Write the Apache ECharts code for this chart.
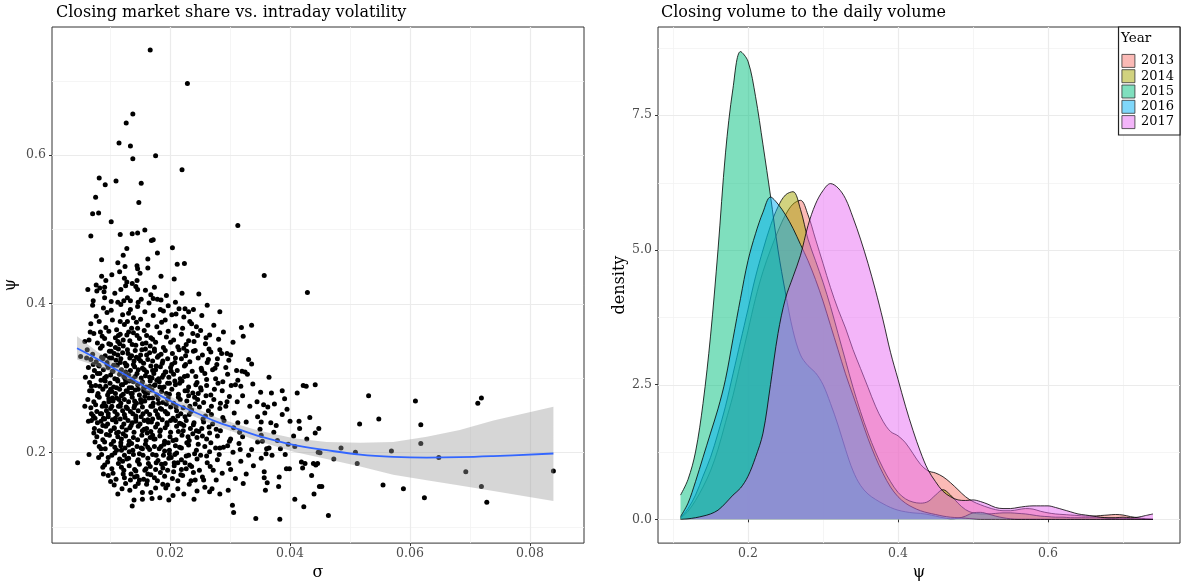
<!DOCTYPE html>
<html>
<head>
<meta charset="utf-8">
<script src="https://cdn.jsdelivr.net/npm/echarts@6/dist/echarts.min.js"></script>
<style>
  html, body { margin: 0; padding: 0; background: #fff; }
  #chart { width: 1186px; height: 586px; }
</style>
</head>
<body>
<div id="chart"></div>
<script>
// ---- left panel: closing share (psi) vs intraday volatility (sigma)
const volPoints = [
  [0.0167,0.741],[0.0229,0.696],[0.0138,0.655],[0.0127,0.643],[0.0115,0.616],[0.0134,0.612],[0.0176,0.599],[0.0138,0.595],
  [0.022,0.58],[0.0082,0.569],[0.0092,0.56],[0.011,0.565],[0.0152,0.562],[0.0076,0.543],[0.0148,0.536],[0.0071,0.521],
  [0.0081,0.522],[0.0102,0.51],[0.0313,0.505],[0.0068,0.491],[0.0117,0.493],[0.0137,0.494],[0.0146,0.495],[0.0158,0.499],
  [0.0169,0.485],[0.0172,0.486],[0.0128,0.474],[0.0122,0.465],[0.0179,0.468],[0.0204,0.475],[0.0086,0.459],[0.0113,0.455],
  [0.0125,0.45],[0.0145,0.451],[0.0146,0.447],[0.0163,0.46],[0.0163,0.448],[0.0212,0.453],[0.0224,0.454],[0.0116,0.443],
  [0.0103,0.439],[0.015,0.441],[0.0086,0.437],[0.0185,0.437],[0.0207,0.433],[0.0093,0.431],[0.0124,0.434],[0.0128,0.429],
  [0.0137,0.427],[0.0145,0.431],[0.0077,0.425],[0.0063,0.419],[0.0083,0.421],[0.0091,0.422],[0.0078,0.417],[0.009,0.416],
  [0.0118,0.419],[0.0143,0.423],[0.0146,0.419],[0.0159,0.418],[0.0248,0.413],[0.022,0.414],[0.0168,0.412],[0.0072,0.404],
  [0.0091,0.408],[0.0102,0.403],[0.0113,0.402],[0.0123,0.404],[0.0129,0.408],[0.0134,0.404],[0.0147,0.402],[0.0172,0.407],
  [0.0179,0.406],[0.0185,0.405],[0.0197,0.397],[0.0225,0.393],[0.0239,0.392],[0.0283,0.389],[0.0253,0.384],[0.021,0.386],
  [0.0223,0.382],[0.0233,0.376],
  [0.0357,0.438],[0.0429,0.415],[0.0319,0.368],[0.0336,0.371],[0.0295,0.333],[0.0301,0.331],[0.0336,0.319],[0.032,0.309],
  [0.0325,0.308],[0.0311,0.31],[0.0281,0.352],[0.0265,0.339],[0.026,0.354],[0.0238,0.36],[0.024,0.349],[0.0223,0.34],
  [0.0242,0.337],[0.0228,0.336],[0.0264,0.325],[0.0253,0.31],[0.0298,0.324],[0.0278,0.318],
  [0.0365,0.301],[0.0369,0.28],[0.0387,0.283],[0.0391,0.272],[0.0356,0.264],[0.0363,0.261],[0.0412,0.28],[0.0422,0.29],
  [0.0427,0.289],[0.0442,0.291],[0.0387,0.251],[0.0368,0.24],[0.0352,0.241],[0.04,0.242],[0.0415,0.242],[0.0416,0.232],
  [0.0433,0.247],[0.0448,0.232],[0.0442,0.226],[0.0428,0.218],[0.0352,0.223],[0.0354,0.215],[0.0379,0.216],[0.0397,0.211],
  [0.0408,0.208],[0.0447,0.2],[0.045,0.1996],[0.0485,0.206],[0.0509,0.2],[0.0473,0.191],[0.0512,0.185],[0.0531,0.276],
  [0.0516,0.238],[0.0548,0.245],[0.0569,0.202],[0.0609,0.269],[0.0618,0.237],[0.0618,0.212],[0.0648,0.193],[0.0693,0.174],
  [0.0713,0.266],[0.0719,0.273],[0.0719,0.154],[0.0728,0.133],[0.0839,0.175],[0.0555,0.156],[0.0589,0.151],[0.0624,0.139],
  [0.0464,0.115],[0.0383,0.11],[0.0423,0.127],[0.0408,0.137],[0.044,0.144],[0.0449,0.154],[0.0453,0.154],[0.0436,0.169],
  [0.0419,0.187],[0.0421,0.179],[0.0425,0.185],[0.0439,0.185],[0.0443,0.183],[0.0446,0.185],[0.0394,0.178],[0.0399,0.178],
  [0.0392,0.197],[0.0382,0.167],[0.0381,0.154],[0.0357,0.166],[0.0359,0.149],[0.0362,0.159],[0.0357,0.174],[0.037,0.196],
  [0.036,0.198],[0.0352,0.192],[0.0361,0.205],[0.0365,0.206],[0.035,0.231],
  [0.0137,0.128],[0.014,0.136],[0.0154,0.137],[0.017,0.138],[0.0183,0.139],[0.0198,0.136],[0.012,0.151],[0.024,0.137],
  [0.0304,0.129],[0.0306,0.119],[0.0343,0.111],[0.0046,0.186],[0.0065,0.197],[0.0088,0.18],[0.0051,0.329],[0.027,0.151],
  [0.0283,0.144],[0.0141,0.167],[0.0162,0.162],[0.0193,0.152],
  [0.0305,0.2],[0.0318,0.188],[0.0331,0.196],[0.0327,0.171],[0.0339,0.182],[0.0346,0.214],[0.0309,0.165],[0.0322,0.158],
  [0.0297,0.149],[0.0287,0.172],[0.0336,0.204],[0.0315,0.212],[0.0289,0.207],[0.0298,0.185],[0.0373,0.227],[0.0384,0.205],
  [0.0406,0.222],[0.0377,0.236],[0.0395,0.258],[0.0345,0.268],[0.0351,0.281],[0.0338,0.292],[0.0329,0.305],[0.0318,0.289],
  [0.0346,0.248],[0.0333,0.262],[0.0312,0.268],[0.0327,0.241],[0.0358,0.253],[0.0374,0.265],
  // dense cloud
  [0.0071,0.398],[0.0089,0.394],[0.0102,0.391],[0.0118,0.399],[0.0131,0.387],[0.0146,0.396],[0.0158,0.389],[0.0165,0.401],
  [0.0184,0.392],[0.0203,0.385],[0.0121,0.385],[0.0095,0.388],[0.0077,0.383],[0.0139,0.381],[0.0172,0.384],[0.0192,0.378],
  [0.0215,0.393],[0.0262,0.398],[0.0129,0.376],[0.0151,0.379],
  [0.0068,0.373],[0.0082,0.376],[0.0093,0.368],[0.0104,0.378],[0.0111,0.365],[0.0124,0.372],[0.0136,0.367],[0.0144,0.375],
  [0.0157,0.364],[0.0163,0.371],[0.0178,0.369],[0.0186,0.375],[0.0197,0.363],[0.0209,0.37],[0.0221,0.367],[0.0236,0.373],
  [0.0251,0.364],[0.0273,0.371],[0.0073,0.36],[0.0087,0.356],[0.0098,0.363],[0.0109,0.354],[0.0117,0.359],[0.0128,0.358],
  [0.0139,0.361],[0.0149,0.353],[0.0161,0.357],[0.0171,0.352],[0.0183,0.361],[0.0194,0.355],[0.0206,0.351],[0.0219,0.359],
  [0.0231,0.35],[0.0246,0.357],[0.0289,0.362],[0.0065,0.351],[0.0079,0.347],[0.0091,0.353],[0.0101,0.345],[0.0113,0.349],
  [0.0122,0.343],[0.0133,0.35],[0.0143,0.344],[0.0154,0.346],[0.0167,0.343],[0.0176,0.348],[0.0189,0.341],[0.0201,0.348],
  [0.0213,0.342],[0.0227,0.345],[0.0259,0.346],[0.0305,0.348],[0.0322,0.356],
  [0.0062,0.338],[0.0071,0.332],[0.0084,0.34],[0.0092,0.33],[0.0099,0.336],[0.0107,0.333],[0.0114,0.339],[0.0121,0.334],
  [0.0129,0.338],[0.0136,0.33],[0.0142,0.337],[0.0151,0.331],[0.0159,0.339],[0.0166,0.334],[0.0174,0.336],[0.0181,0.33],
  [0.0192,0.337],[0.0204,0.333],[0.0215,0.338],[0.0226,0.33],[0.0239,0.336],[0.0254,0.331],[0.0268,0.335],[0.0286,0.333],
  [0.0068,0.325],[0.0077,0.322],[0.0086,0.328],[0.0095,0.321],[0.0103,0.327],[0.011,0.324],[0.0118,0.326],[0.0125,0.32],
  [0.0133,0.327],[0.014,0.323],[0.0148,0.326],[0.0156,0.32],[0.0163,0.325],[0.0171,0.323],[0.0179,0.328],[0.0187,0.32],
  [0.0196,0.326],[0.0208,0.321],[0.0219,0.326],[0.0233,0.322],[0.0247,0.327],[0.0262,0.321],[0.0279,0.326],[0.0331,0.325],
  [0.0064,0.314],[0.0074,0.31],[0.0081,0.317],[0.0089,0.311],[0.0097,0.314],[0.0105,0.309],[0.0112,0.317],[0.0119,0.311],
  [0.0127,0.316],[0.0134,0.31],[0.0141,0.315],[0.0147,0.311],[0.0154,0.313],[0.0161,0.308],[0.0168,0.316],[0.0176,0.311],
  [0.0184,0.315],[0.0193,0.308],[0.0201,0.314],[0.0212,0.31],[0.0224,0.316],[0.0237,0.309],[0.0252,0.313],[0.0271,0.311],
  [0.0293,0.314],[0.0071,0.302],[0.0083,0.306],[0.0091,0.3],[0.0101,0.304],[0.0108,0.299],[0.0116,0.305],[0.0123,0.302],
  [0.0131,0.304],[0.0138,0.299],[0.0145,0.306],[0.0152,0.3],[0.0159,0.303],[0.0166,0.301],[0.0173,0.306],[0.0181,0.299],
  [0.0189,0.304],[0.0198,0.301],[0.0206,0.305],[0.0217,0.299],[0.0229,0.303],[0.0243,0.302],[0.0258,0.306],[0.0276,0.299],
  [0.0066,0.294],[0.0076,0.29],[0.0085,0.297],[0.0093,0.289],[0.01,0.293],[0.0106,0.288],[0.0113,0.296],[0.0119,0.291],
  [0.0126,0.294],[0.0132,0.287],[0.0139,0.295],[0.0146,0.291],[0.0153,0.293],[0.016,0.288],[0.0167,0.296],[0.0174,0.29],
  [0.0182,0.295],[0.019,0.288],[0.0199,0.293],[0.0209,0.291],[0.022,0.296],[0.0231,0.288],[0.0245,0.294],[0.0261,0.29],
  [0.028,0.293],[0.0302,0.29],[0.007,0.283],[0.008,0.279],[0.0088,0.285],[0.0096,0.277],[0.0103,0.282],[0.0109,0.279],
  [0.0116,0.285],[0.0122,0.278],[0.0129,0.282],[0.0135,0.279],[0.0142,0.284],[0.0149,0.277],[0.0156,0.283],[0.0163,0.28],
  [0.017,0.284],[0.0178,0.277],[0.0186,0.282],[0.0194,0.279],[0.0203,0.285],[0.0214,0.278],[0.0225,0.283],[0.0238,0.28],
  [0.0252,0.284],[0.0268,0.277],[0.0287,0.283],[0.0063,0.271],[0.0073,0.268],[0.0082,0.274],[0.009,0.266],[0.0098,0.272],
  [0.0105,0.269],[0.0111,0.273],[0.0118,0.266],[0.0124,0.271],[0.0131,0.268],[0.0137,0.274],[0.0144,0.266],[0.0151,0.271],
  [0.0158,0.269],[0.0165,0.273],[0.0172,0.266],[0.018,0.272],[0.0188,0.267],[0.0197,0.273],[0.0206,0.266],[0.0217,0.271],
  [0.0228,0.269],[0.0241,0.274],[0.0256,0.267],[0.0273,0.271],[0.0295,0.268],[0.0068,0.26],[0.0078,0.255],[0.0087,0.262],
  [0.0094,0.256],[0.0101,0.259],[0.0108,0.255],[0.0114,0.262],[0.0121,0.256],[0.0127,0.261],[0.0134,0.255],[0.014,0.26],
  [0.0147,0.256],[0.0154,0.261],[0.0161,0.255],[0.0168,0.262],[0.0176,0.256],[0.0184,0.259],[0.0192,0.255],[0.0201,0.261],
  [0.0211,0.256],[0.0222,0.26],[0.0235,0.255],[0.0249,0.261],[0.0264,0.256],[0.0283,0.259],[0.0072,0.249],[0.0084,0.252],
  [0.0097,0.248],[0.0112,0.251],[0.0125,0.247],[0.0138,0.252],[0.0152,0.248],[0.0166,0.251],[0.0181,0.247],[0.0196,0.252],
  [0.0213,0.249],[0.0232,0.251],[0.0259,0.249],
  [0.0069,0.243],[0.0079,0.24],[0.0089,0.246],[0.0096,0.238],[0.0104,0.244],[0.011,0.241],[0.0117,0.245],[0.0123,0.238],
  [0.013,0.243],[0.0137,0.24],[0.0143,0.246],[0.015,0.238],[0.0157,0.243],[0.0164,0.241],[0.0171,0.245],[0.0179,0.238],
  [0.0187,0.244],[0.0195,0.24],[0.0205,0.246],[0.0216,0.239],[0.0227,0.243],[0.024,0.24],[0.0255,0.245],[0.0271,0.238],
  [0.029,0.243],[0.0313,0.24],[0.0074,0.232],[0.0085,0.228],[0.0093,0.235],[0.0101,0.229],[0.0107,0.232],[0.0114,0.227],
  [0.012,0.234],[0.0127,0.23],[0.0133,0.233],[0.014,0.227],[0.0147,0.235],[0.0154,0.229],[0.0161,0.232],[0.0168,0.228],
  [0.0176,0.234],[0.0184,0.23],[0.0192,0.233],[0.0201,0.227],[0.0211,0.235],[0.0222,0.229],[0.0234,0.232],[0.0248,0.228],
  [0.0265,0.234],[0.0284,0.229],[0.0306,0.233],[0.0078,0.221],[0.0088,0.217],[0.0099,0.223],[0.0106,0.215],[0.0113,0.221],
  [0.0119,0.218],[0.0126,0.222],[0.0132,0.215],[0.0139,0.22],[0.0146,0.217],[0.0153,0.223],[0.016,0.216],[0.0167,0.22],
  [0.0175,0.218],[0.0183,0.222],[0.0191,0.215],[0.02,0.221],[0.021,0.217],[0.022,0.223],[0.0232,0.216],[0.0245,0.22],
  [0.0261,0.218],[0.0279,0.222],[0.0299,0.215],[0.0321,0.221],[0.0082,0.208],[0.0092,0.205],[0.0102,0.211],[0.0111,0.203],
  [0.0118,0.209],[0.0125,0.206],[0.0131,0.21],[0.0138,0.203],[0.0145,0.208],[0.0152,0.206],[0.0159,0.211],[0.0166,0.204],
  [0.0174,0.208],[0.0182,0.205],[0.019,0.211],[0.0199,0.203],[0.0209,0.209],[0.0219,0.206],[0.0231,0.21],[0.0244,0.203],
  [0.0258,0.208],[0.0276,0.206],[0.0296,0.209],[0.0317,0.204],
  [0.0086,0.197],[0.0097,0.193],[0.0108,0.199],[0.0116,0.191],[0.0124,0.196],[0.0131,0.192],[0.0139,0.197],[0.0147,0.19],
  [0.0155,0.196],[0.0163,0.192],[0.0171,0.197],[0.018,0.189],[0.0189,0.196],[0.0198,0.192],[0.0208,0.197],[0.0219,0.19],
  [0.0231,0.196],[0.0245,0.191],[0.0261,0.195],[0.0279,0.19],[0.0091,0.183],[0.0103,0.178],[0.0114,0.185],[0.0123,0.176],
  [0.0132,0.182],[0.0141,0.177],[0.0149,0.184],[0.0158,0.176],[0.0167,0.181],[0.0176,0.177],[0.0186,0.184],[0.0196,0.176],
  [0.0207,0.182],[0.0219,0.177],[0.0233,0.183],[0.0249,0.176],[0.0267,0.181],[0.0097,0.169],[0.011,0.164],[0.0122,0.171],
  [0.0134,0.163],[0.0145,0.168],[0.0156,0.164],[0.0168,0.17],[0.0179,0.162],[0.0191,0.168],[0.0204,0.165],[0.0218,0.17],
  [0.0235,0.162],[0.0254,0.167],[0.0277,0.163],[0.0107,0.156],[0.0126,0.158],[0.0142,0.154],[0.0161,0.157],[0.0176,0.152],
  [0.0196,0.156],[0.0213,0.151],[0.0232,0.157],[0.0258,0.153],
  [0.0095,0.318],[0.0132,0.296],[0.0158,0.275],[0.0117,0.262],[0.0143,0.249],[0.0187,0.287],[0.0109,0.341],[0.0126,0.308],
  [0.0151,0.323],[0.0171,0.262],[0.0199,0.278],[0.0135,0.236],[0.0162,0.226],[0.0119,0.203],[0.0093,0.262],[0.0083,0.289],
  [0.0104,0.273],[0.0147,0.285],[0.0178,0.297],[0.0208,0.296],[0.0229,0.283],[0.0242,0.265],[0.0218,0.252],[0.0195,0.237],
  [0.0173,0.218],[0.0154,0.205],[0.0128,0.191],[0.0111,0.226],[0.0088,0.236],[0.0076,0.264],[0.0079,0.306],[0.0099,0.327],
  [0.0122,0.351],[0.0146,0.367],[0.0168,0.354],[0.0185,0.332],[0.0203,0.318],[0.0224,0.302],[0.0251,0.287],[0.0269,0.262],
  [0.0288,0.247],[0.0266,0.226],[0.0247,0.211],[0.0227,0.195],[0.0207,0.186],[0.0184,0.173],[0.0164,0.185],[0.0143,0.175],
  [0.0119,0.18],[0.0103,0.196],[0.0091,0.214],[0.0082,0.229],[0.0069,0.252],[0.0066,0.283],[0.0072,0.318],[0.0087,0.343],
  [0.0114,0.357],[0.0137,0.345],[0.0161,0.331],[0.0177,0.316],[0.0196,0.293],[0.0214,0.274],[0.0236,0.257],[0.0256,0.241],
  [0.0277,0.231],[0.0301,0.218],[0.0282,0.197],[0.0262,0.186],[0.0239,0.173],[0.0213,0.162],[0.0188,0.157],[0.0168,0.146],
  [0.0147,0.158],[0.0124,0.166],[0.0105,0.172],[0.0096,0.187],[0.0085,0.205],[0.0075,0.214],[0.0098,0.281],[0.0112,0.298],
  [0.0127,0.283],[0.0141,0.269],[0.0155,0.252],[0.0169,0.241],[0.0183,0.228],[0.0197,0.213],[0.0211,0.199],[0.0225,0.186],
  [0.0241,0.198],[0.0228,0.213],[0.0214,0.228],[0.0201,0.243],[0.0186,0.258],[0.0171,0.273],[0.0156,0.287],[0.0142,0.302],
  [0.0128,0.317],[0.0113,0.331],[0.0098,0.346],[0.0084,0.362],[0.0117,0.376],[0.0134,0.392],[0.0152,0.406],[0.0108,0.414],
  [0.0126,0.424],[0.0174,0.422],[0.0194,0.411],[0.0209,0.402],[0.0189,0.39],[0.0231,0.389],[0.0244,0.369],[0.0266,0.358],
  [0.0283,0.338],[0.0296,0.305],[0.0309,0.291],[0.0321,0.276],[0.0293,0.262],[0.0307,0.253],[0.0316,0.227],[0.0301,0.177],
  [0.0272,0.176],[0.0256,0.163],[0.0266,0.147],[0.0245,0.148],[0.0223,0.144],[0.0205,0.142],[0.0154,0.146],[0.0133,0.149],
  [0.0113,0.144],[0.0101,0.161],[0.0089,0.171],[0.0081,0.193],[0.0073,0.226],[0.0064,0.242],[0.0058,0.262],[0.0059,0.301],
  [0.0061,0.327],[0.0067,0.362],[0.0058,0.349],
  [0.0094,0.302],[0.0106,0.317],[0.0121,0.291],[0.0137,0.279],[0.0152,0.267],[0.0166,0.289],[0.0181,0.266],[0.0195,0.252],
  [0.0209,0.243],[0.0223,0.236],[0.0238,0.225],[0.0253,0.232],[0.0268,0.213],[0.0283,0.206],[0.0097,0.252],[0.0109,0.246],
  [0.0122,0.225],[0.0136,0.212],[0.0149,0.198],[0.0163,0.207],[0.0177,0.196],[0.0192,0.185],[0.0206,0.174],[0.0221,0.169],
  [0.0236,0.181],[0.0251,0.196],[0.0266,0.201],[0.0086,0.252],[0.0079,0.276],[0.0092,0.296],[0.0104,0.309],[0.0117,0.321],
  [0.013,0.333],[0.0144,0.328],[0.0157,0.311],[0.017,0.3],[0.0183,0.288],[0.0196,0.271],[0.021,0.261],[0.0225,0.248],
  [0.0239,0.237],[0.0254,0.222],[0.0269,0.251],[0.0284,0.266],[0.0299,0.275],[0.0313,0.297],[0.0101,0.285],[0.0115,0.271],
  [0.0129,0.259],[0.0143,0.242],[0.0157,0.231],[0.0171,0.223],[0.0185,0.208],[0.0199,0.198],[0.0213,0.186],[0.0227,0.178],
  [0.0242,0.163],[0.0088,0.326],[0.0102,0.336],[0.0116,0.346],[0.0131,0.362],[0.0145,0.357],[0.016,0.347],[0.0174,0.339],
  [0.0188,0.323],[0.0202,0.309],[0.0216,0.293],[0.0231,0.276],[0.0246,0.271],[0.026,0.276],[0.0274,0.285],[0.0288,0.295],
  [0.0082,0.316],[0.0069,0.289],[0.0075,0.246],[0.0094,0.224],[0.0108,0.207],[0.0121,0.188],[0.0135,0.171],[0.0149,0.163],
  [0.0163,0.171],[0.0177,0.186],[0.0191,0.202],[0.0205,0.216],[0.0219,0.238],[0.0233,0.262],[0.0247,0.279],[0.0261,0.298],
  [0.0275,0.313],[0.0153,0.338],[0.0139,0.318],[0.0125,0.299],[0.0111,0.287],[0.0098,0.268],[0.0085,0.242],[0.0107,0.233],
  [0.0124,0.251],[0.0141,0.263],[0.0158,0.281],[0.0175,0.291],[0.0192,0.308],[0.0209,0.327],[0.0226,0.318],[0.0243,0.291],
  [0.0118,0.213],[0.0132,0.201],[0.0146,0.188],[0.016,0.178],[0.0174,0.166],[0.0188,0.179],[0.0202,0.193],[0.0216,0.207],
  [0.023,0.221],[0.0244,0.229],[0.0163,0.244],[0.0179,0.251],[0.0194,0.265],[0.0187,0.301],[0.0171,0.31],[0.0154,0.295],
  [0.0136,0.287],[0.0119,0.276],[0.0103,0.262],[0.0091,0.245]
];

// loess fit with its confidence band
const fitSigma = [0.0045,0.0078,0.0111,0.0145,0.0178,0.0211,0.0244,0.0278,0.0311,0.0344,0.0406,0.0461,0.0517,0.0572,0.0628,0.0683,0.0739,0.0839];
const fitPsi   = [0.340,0.326,0.311,0.295,0.279,0.265,0.253,0.241,0.232,0.223,0.210,0.203,0.197,0.194,0.193,0.1935,0.195,0.1985];
const fitUpper = [0.356,0.336,0.318,0.301,0.285,0.271,0.259,0.247,0.238,0.230,0.219,0.214,0.213,0.214,0.221,0.230,0.243,0.2615];
const fitLower = [0.325,0.316,0.304,0.289,0.273,0.259,0.247,0.235,0.226,0.216,0.201,0.191,0.181,0.170,0.1625,0.1555,0.148,0.1347];

// ---- right panel: densities of psi by year
const years = ['2013', '2014', '2015', '2016', '2017'];
const psiGrid = [0.11,0.12,0.13,0.14,0.15,0.16,0.17,0.18,0.19,0.20,0.21,0.22,0.23,0.24,0.25,0.26,0.27,0.28,0.29,0.30,
  0.31,0.32,0.33,0.34,0.35,0.36,0.37,0.38,0.39,0.40,0.41,0.42,0.43,0.44,0.45,0.46,0.47,0.48,0.49,0.50,
  0.51,0.52,0.53,0.54,0.55,0.56,0.57,0.58,0.59,0.60,0.61,0.62,0.63,0.64,0.65,0.66,0.67,0.68,0.69,0.70,0.71,0.72,0.73,0.74];
const dens2013 = [0.02,0.15,0.35,0.6,0.9,1.3,1.8,2.3,2.9,3.5, 4.1,4.6,5.0,5.35,5.65,5.85,5.92,5.65,5.2,4.75,
  4.3,3.9,3.55,3.15,2.8,2.45,2.1,1.82,1.63,1.55, 1.42,1.22,1.02,0.9,0.86,0.79,0.68,0.55,0.42,0.33,
  0.27,0.22,0.18,0.16,0.16,0.18,0.2,0.19,0.15,0.12, 0.1,0.09,0.08,0.07,0.06,0.06,0.07,0.08,0.09,0.08, 0.05,0.03,0.01,0.0];
const dens2014 = [0.03,0.2,0.45,0.8,1.15,1.6,2.1,2.7,3.3,3.9, 4.5,5.0,5.45,5.8,6.02,6.08,5.75,5.2,4.8,4.4,
  3.95,3.45,2.95,2.45,2.0,1.6,1.25,0.95,0.7,0.5, 0.38,0.32,0.3,0.33,0.45,0.55,0.45,0.3,0.18,0.12,
  0.1,0.1,0.11,0.12,0.12,0.11,0.1,0.08,0.06,0.05, 0.04,0.04,0.03,0.03,0.03,0.03,0.03,0.02,0.02,0.02, 0.01,0.01,0.0,0.0];
const dens2015 = [0.45,0.74,1.25,2.15,3.4,5.0,6.8,8.0,8.68,8.5, 7.85,6.95,6.0,5.0,4.2,3.5,3.05,2.85,2.72,2.5,
  2.15,1.75,1.3,0.9,0.63,0.47,0.37,0.29,0.22,0.17, 0.14,0.12,0.11,0.09,0.06,0.03,0.01,0.02,0.06,0.12,
  0.13,0.1,0.06,0.03,0.01,0.0,0.0,0.0,0.0,0.0, 0.0,0.0,0.0,0.0,0.0,0.0,0.0,0.0,0.0,0.0, 0.0,0.0,0.0,0.0];
const dens2016 = [0.05,0.3,0.7,1.15,1.6,2.05,2.6,3.35,4.1,4.8, 5.3,5.7,5.98,5.85,5.65,5.4,5.1,4.8,4.45,4.05,
  3.6,3.15,2.7,2.3,1.9,1.5,1.15,0.85,0.6,0.42, 0.3,0.22,0.16,0.12,0.09,0.06,0.04,0.03,0.02,0.01,
  0.0,0.0,0.0,0.0,0.0,0.0,0.0,0.0,0.0,0.0, 0.0,0.0,0.0,0.0,0.0,0.0,0.0,0.0,0.0,0.0, 0.0,0.0,0.0,0.0];
const dens2017 = [0.0,0.01,0.03,0.06,0.1,0.17,0.3,0.45,0.58,0.8, 1.15,1.6,2.5,3.45,4.1,4.5,4.9,5.45,5.85,6.1,
  6.23,6.15,5.95,5.6,5.2,4.75,4.25,3.7,3.1,2.6, 2.1,1.65,1.25,0.92,0.7,0.52,0.42,0.36,0.35,0.36,
  0.33,0.28,0.22,0.2,0.2,0.22,0.24,0.25,0.25,0.25, 0.22,0.18,0.14,0.1,0.08,0.06,0.04,0.03,0.03,0.04, 0.03,0.04,0.07,0.1];
const densByYear = [dens2013, dens2014, dens2015, dens2016, dens2017];
const yearColors = ['rgba(248,118,109,0.5)', 'rgba(163,165,0,0.5)', 'rgba(0,191,125,0.5)', 'rgba(0,176,246,0.5)', 'rgba(231,107,243,0.5)'];

// ticks and grid lines
const sigmaTicks = [0.02, 0.04, 0.06, 0.08];
const sigmaMinor = [0.01, 0.03, 0.05, 0.07];
const psiTicks = [0.2, 0.4, 0.6];
const psiMinorLeft = [0.1, 0.3, 0.5, 0.7];
const psiMinorRight = [0.1, 0.3, 0.5, 0.7];
const densTicks = [0, 2.5, 5, 7.5];
const densMinor = [1.25, 3.75, 6.25, 8.75];

const FONT = 'DejaVu Serif';

function gridData(xMajor, xMinor, yMajor, yMinor) {
  const d = [];
  xMinor.forEach(v => d.push([v, v, 1, 0]));
  yMinor.forEach(v => d.push([v, v, 1, 1]));
  xMajor.forEach(v => d.push([v, v, 0, 0]));
  yMajor.forEach(v => d.push([v, v, 0, 1]));
  return d;
}

function renderGridLine(params, api) {
  const v = api.value(0);
  const minor = api.value(2) === 1;
  const cs = params.coordSys;
  let shape;
  if (api.value(3) === 0) {
    const x = Math.round(api.coord([v, v])[0]) + 0.5;
    shape = { x1: x, y1: cs.y, x2: x, y2: cs.y + cs.height };
  } else {
    const y = Math.round(api.coord([v, v])[1]) + 0.5;
    shape = { x1: cs.x, y1: y, x2: cs.x + cs.width, y2: y };
  }
  return {
    type: 'line',
    shape,
    style: { stroke: minor ? '#F2F2F2' : '#EBEBEB', lineWidth: minor ? 0.8 : 1.2 }
  };
}

function renderBand(params, api) {
  const pts = [];
  for (let i = 0; i < fitSigma.length; i++) pts.push(api.coord([fitSigma[i], fitUpper[i]]));
  for (let i = fitSigma.length - 1; i >= 0; i--) pts.push(api.coord([fitSigma[i], fitLower[i]]));
  return {
    type: 'polygon',
    shape: { points: pts },
    style: { fill: 'rgba(153,153,153,0.4)' }
  };
}

const chart = echarts.init(document.getElementById('chart'));

const axisLabelStyle = { color: '#4D4D4D', fontFamily: FONT, fontSize: 12.5 };
const axisTickStyle = { show: true, length: 3, lineStyle: { color: '#333', width: 1 } };
const titleStyle = { fontFamily: FONT, fontWeight: 'normal', fontSize: 16, color: '#000' };
const nameStyle = { fontFamily: FONT, fontSize: 16, color: '#000' };

const option = {
  animation: false,
  title: [
    { text: 'Closing market share vs. intraday volatility', left: 51, top: 0, textStyle: titleStyle },
    { text: 'Closing volume to the daily volume', left: 656, top: 0, textStyle: titleStyle }
  ],
  grid: [
    { left: 52, top: 27, width: 532, height: 524, show: true, borderColor: '#333', borderWidth: 1, backgroundColor: '#fff' },
    { left: 658, top: 27, width: 522, height: 521, show: true, borderColor: '#333', borderWidth: 1, backgroundColor: '#fff' }
  ],
  xAxis: [
    {
      type: 'value', gridIndex: 0, min: 0.00033, max: 0.089,
      name: 'σ', nameLocation: 'middle', nameGap: 16, nameTextStyle: nameStyle,
      axisLine: { show: false }, splitLine: { show: false },
      axisTick: Object.assign({ customValues: sigmaTicks }, axisTickStyle),
      axisLabel: Object.assign({ customValues: sigmaTicks, margin: 4, formatter: v => v.toFixed(2) }, axisLabelStyle)
    },
    {
      type: 'value', gridIndex: 1, min: 0.08, max: 0.776,
      name: 'ψ', nameLocation: 'middle', nameGap: 17, nameTextStyle: nameStyle,
      axisLine: { show: false }, splitLine: { show: false },
      axisTick: Object.assign({ customValues: psiTicks }, axisTickStyle),
      axisLabel: Object.assign({ customValues: psiTicks, margin: 4, formatter: v => v.toFixed(1) }, axisLabelStyle)
    }
  ],
  yAxis: [
    {
      type: 'value', gridIndex: 0, min: 0.078, max: 0.772,
      name: 'ψ', nameLocation: 'middle', nameGap: 33, nameRotate: 90, nameTextStyle: nameStyle,
      axisLine: { show: false }, splitLine: { show: false },
      axisTick: Object.assign({ customValues: psiTicks }, axisTickStyle),
      axisLabel: Object.assign({ customValues: psiTicks, margin: 6, formatter: v => v.toFixed(1) }, axisLabelStyle)
    },
    {
      type: 'value', gridIndex: 1, min: -0.441, max: 9.136,
      name: 'density', nameLocation: 'middle', nameGap: 30, nameRotate: 90, nameTextStyle: nameStyle,
      axisLine: { show: false }, splitLine: { show: false },
      axisTick: Object.assign({ customValues: densTicks }, axisTickStyle),
      axisLabel: Object.assign({ customValues: densTicks, margin: 6, formatter: v => v.toFixed(1) }, axisLabelStyle)
    }
  ],
  legend: {
    data: years,
    right: 6, top: 27,
    orient: 'vertical',
    icon: 'rect',
    itemWidth: 13, itemHeight: 13, itemGap: 1.5,
    padding: [27, 6, 6, 3],
    borderColor: '#222', borderWidth: 1.2, backgroundColor: '#fff',
    selectedMode: false,
    itemStyle: { borderColor: '#333', borderWidth: 0.8 },
    textStyle: { fontFamily: FONT, fontSize: 13, color: '#000', padding: [0, 0, 0, 1] }
  },
  graphic: [
    { type: 'text', left: 1121, top: 31, z: 100,
      style: { text: 'Year', font: '13.5px "DejaVu Serif"', fill: '#000' } }
  ],
  series: [
    { type: 'custom', xAxisIndex: 0, yAxisIndex: 0, z: 0, silent: true,
      renderItem: renderGridLine, data: gridData(sigmaTicks, sigmaMinor, psiTicks, psiMinorLeft) },
    { type: 'custom', xAxisIndex: 1, yAxisIndex: 1, z: 0, silent: true,
      renderItem: renderGridLine, data: gridData(psiTicks, psiMinorRight, densTicks, densMinor) },
    { type: 'scatter', xAxisIndex: 0, yAxisIndex: 0, z: 2, symbolSize: 5,
      itemStyle: { color: '#000', opacity: 1 }, data: volPoints },
    { type: 'custom', xAxisIndex: 0, yAxisIndex: 0, z: 3, silent: true,
      renderItem: renderBand, data: [[fitSigma[0], fitPsi[0]]] },
    { type: 'line', xAxisIndex: 0, yAxisIndex: 0, z: 4, smooth: 0.4, symbol: 'none',
      lineStyle: { color: '#3366FF', width: 1.8 },
      data: fitSigma.map((s, i) => [s, fitPsi[i]]) }
  ].concat(years.map((y, k) => ({
    name: y, type: 'line', xAxisIndex: 1, yAxisIndex: 1, z: 5 + k,
    smooth: 0.35, symbol: 'none',
    itemStyle: { color: yearColors[k] },
    lineStyle: { color: '#000', width: 0.8 },
    areaStyle: { color: yearColors[k], opacity: 1 },
    data: psiGrid.map((p, i) => [p, densByYear[k][i]])
  })))
};

chart.setOption(option);
</script>
</body>
</html>
